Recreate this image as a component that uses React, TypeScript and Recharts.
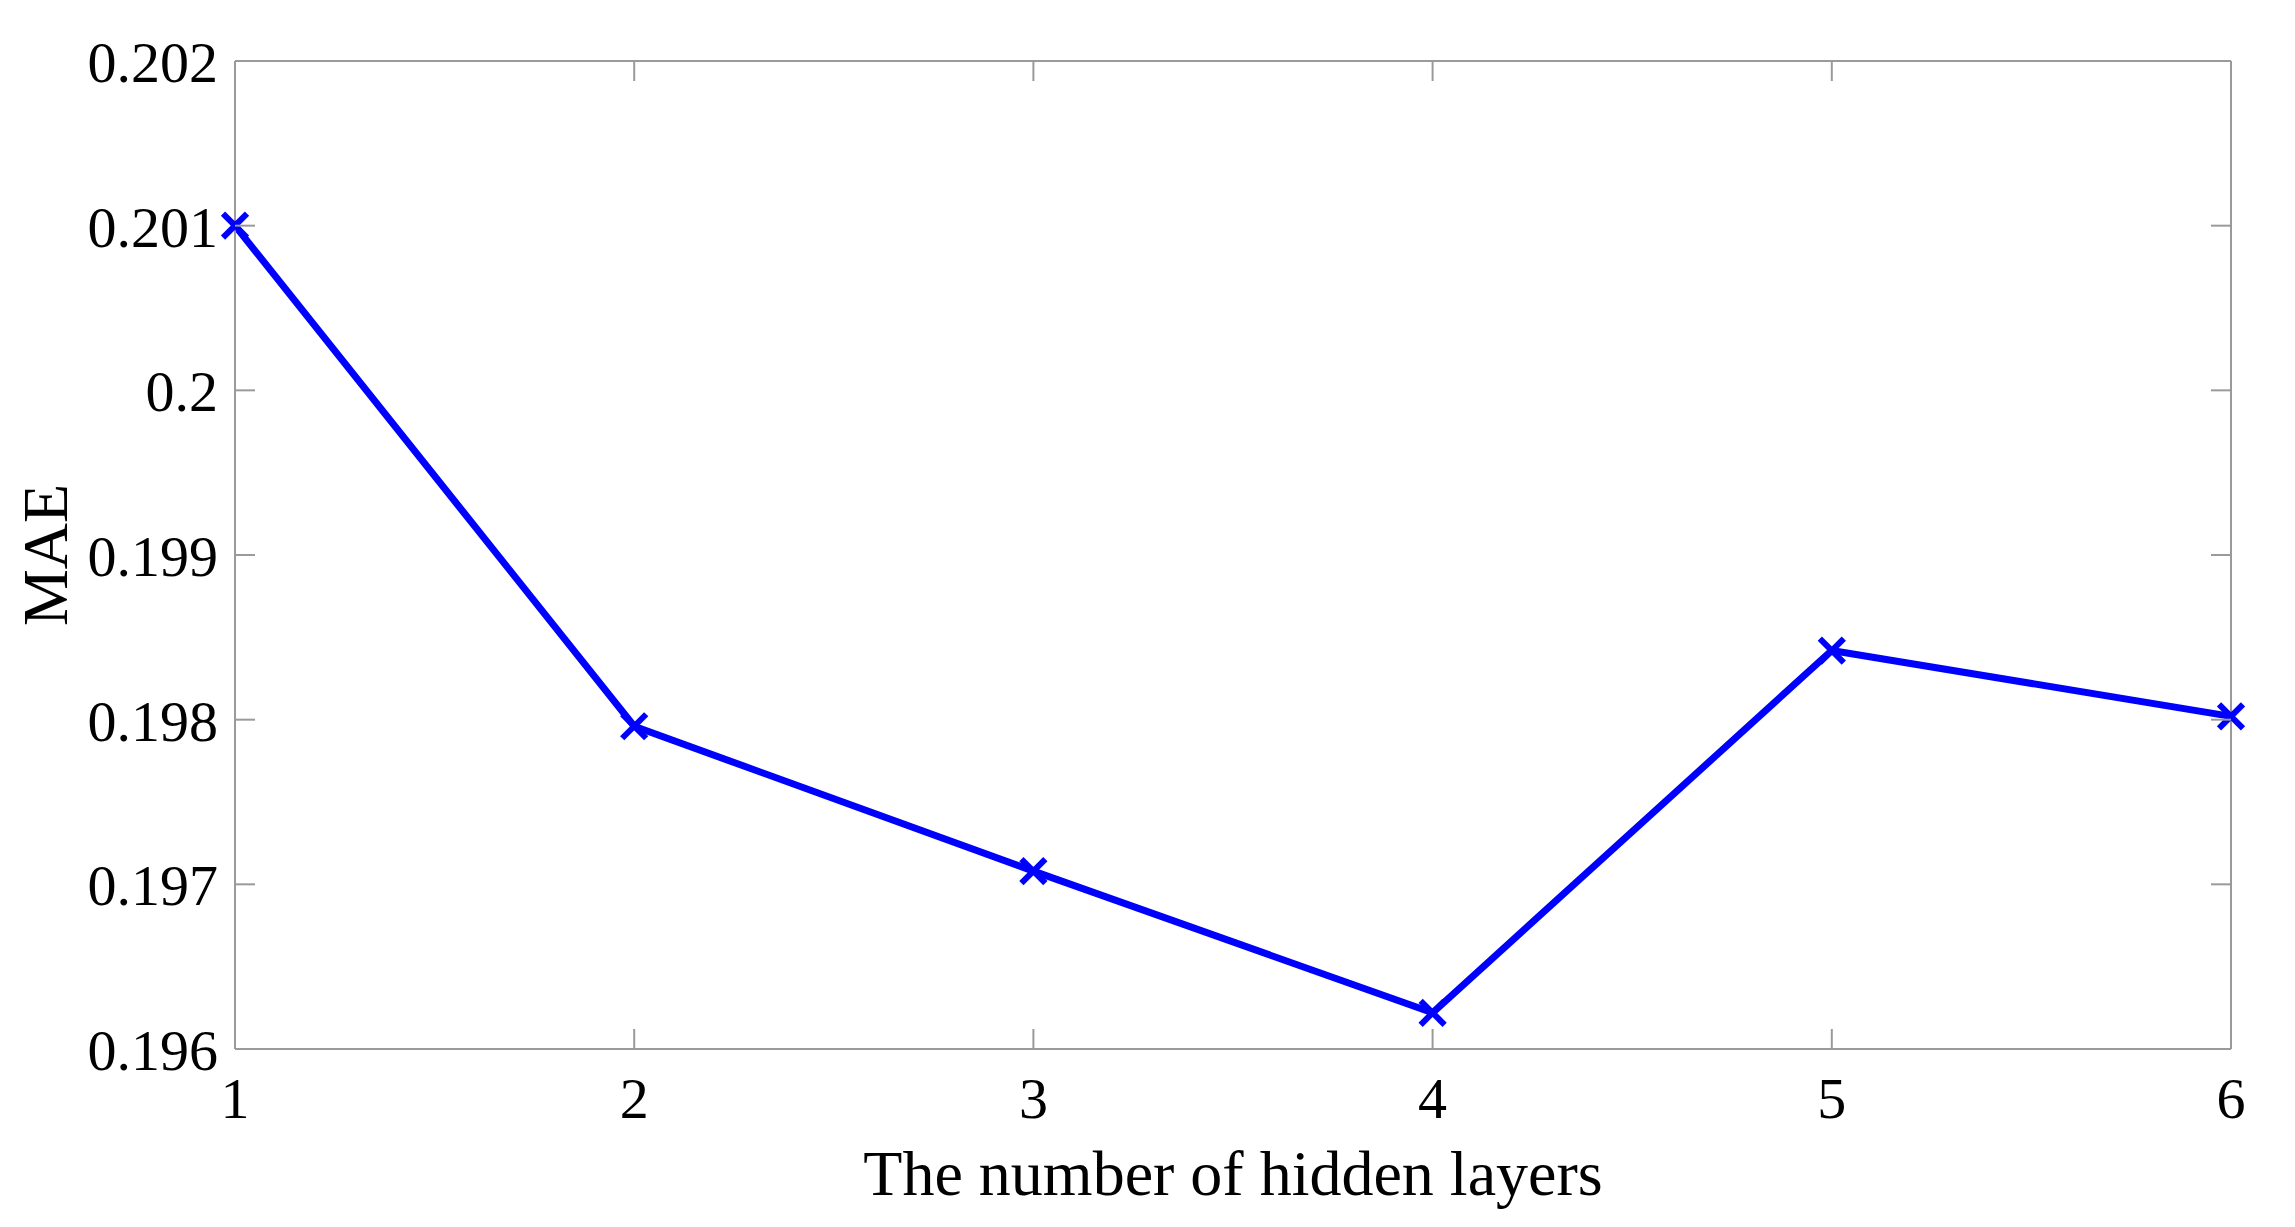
import React from 'react';
import { LineChart, Line, XAxis, YAxis, ReferenceLine } from 'recharts';

// values
const hiddenLayers = [1, 2, 3, 4, 5, 6];
const maeValues = [0.201, 0.19796, 0.19708, 0.19622, 0.19842, 0.19802];
const yTicks = [0.196, 0.197, 0.198, 0.199, 0.2, 0.201, 0.202];

const data = hiddenLayers.map((layers, i) => ({ layers, mae: maeValues[i] }));

const FONT = '"Liberation Serif", "Times New Roman", serif';
const FRAME = '#9a9a9a';
const BLUE = '#0000ff';
const TICK_LEN = 20;

// plot box size, used to mirror the tick marks on the top/right sides
const CHART_W = 2279;
const CHART_H = 1211;
const MARGIN = { top: 53, right: 56, bottom: 70, left: 0 };
const Y_AXIS_W = 227;
const X_AXIS_H = 100;
const PLOT_W = CHART_W - MARGIN.left - MARGIN.right - Y_AXIS_W;
const PLOT_H = CHART_H - MARGIN.top - MARGIN.bottom - X_AXIS_H;

const LeftTick = ({ x, y, payload }: any) => (
  <g>
    <line x1={x} x2={x + TICK_LEN} y1={y} y2={y} stroke={FRAME} strokeWidth={2} />
    <line x1={x + PLOT_W} x2={x + PLOT_W - TICK_LEN} y1={y} y2={y} stroke={FRAME} strokeWidth={2} />
    <text x={x - 17} y={y} dy="0.36em" textAnchor="end" fontFamily={FONT} fontSize={58} fill="#000">
      {String(payload.value)}
    </text>
  </g>
);

const BottomTick = ({ x, y, payload }: any) => (
  <g>
    <line x1={x} x2={x} y1={y} y2={y - TICK_LEN} stroke={FRAME} strokeWidth={2} />
    <line x1={x} x2={x} y1={y - PLOT_H} y2={y - PLOT_H + TICK_LEN} stroke={FRAME} strokeWidth={2} />
    <text x={x} y={y + 69} textAnchor="middle" fontFamily={FONT} fontSize={58} fill="#000">
      {String(payload.value)}
    </text>
  </g>
);

// x-shaped marker
const CrossDot = ({ cx, cy }: any) => {
  if (cx == null || cy == null) return null;
  const r = 12;
  return (
    <g>
      <line x1={cx - r} y1={cy - r} x2={cx + r} y2={cy + r} stroke={BLUE} strokeWidth={6} />
      <line x1={cx - r} y1={cy + r} x2={cx + r} y2={cy - r} stroke={BLUE} strokeWidth={6} />
    </g>
  );
};

const XTitle = ({ viewBox }: any) => (
  <text
    x={viewBox.x + viewBox.width / 2}
    y={viewBox.y + 146}
    textAnchor="middle"
    fontFamily={FONT}
    fontSize={64}
    fill="#000"
  >
    The number of hidden layers
  </text>
);

const YTitle = ({ viewBox }: any) => {
  const x = 59;
  const y = viewBox.y + viewBox.height / 2;
  return (
    <text
      x={x}
      y={y}
      transform={`rotate(-90, ${x}, ${y})`}
      textAnchor="middle"
      fontFamily={FONT}
      fontSize={64}
      fill="#000"
    >
      MAE
    </text>
  );
};

export default function App() {
  return (
    <div style={{ width: CHART_W, height: CHART_H, background: '#fff' }}>
      <LineChart width={CHART_W} height={CHART_H} data={data} margin={MARGIN}>
        <XAxis
          dataKey="layers"
          type="number"
          domain={[1, 6]}
          ticks={hiddenLayers}
          height={X_AXIS_H}
          tickSize={0}
          tickMargin={0}
          tickLine={false}
          axisLine={{ stroke: FRAME, strokeWidth: 2 }}
          tick={<BottomTick />}
          label={<XTitle />}
        />
        <YAxis
          type="number"
          domain={[0.196, 0.202]}
          ticks={yTicks}
          width={Y_AXIS_W}
          tickSize={0}
          tickMargin={0}
          tickLine={false}
          axisLine={{ stroke: FRAME, strokeWidth: 2 }}
          tick={<LeftTick />}
          label={<YTitle />}
        />
        {/* top and right sides of the box */}
        <ReferenceLine y={0.202} stroke={FRAME} strokeWidth={2} />
        <ReferenceLine x={6} stroke={FRAME} strokeWidth={2} />
        <Line
          dataKey="mae"
          type="linear"
          stroke={BLUE}
          strokeWidth={7}
          dot={<CrossDot />}
          activeDot={false}
          isAnimationActive={false}
        />
      </LineChart>
    </div>
  );
}
